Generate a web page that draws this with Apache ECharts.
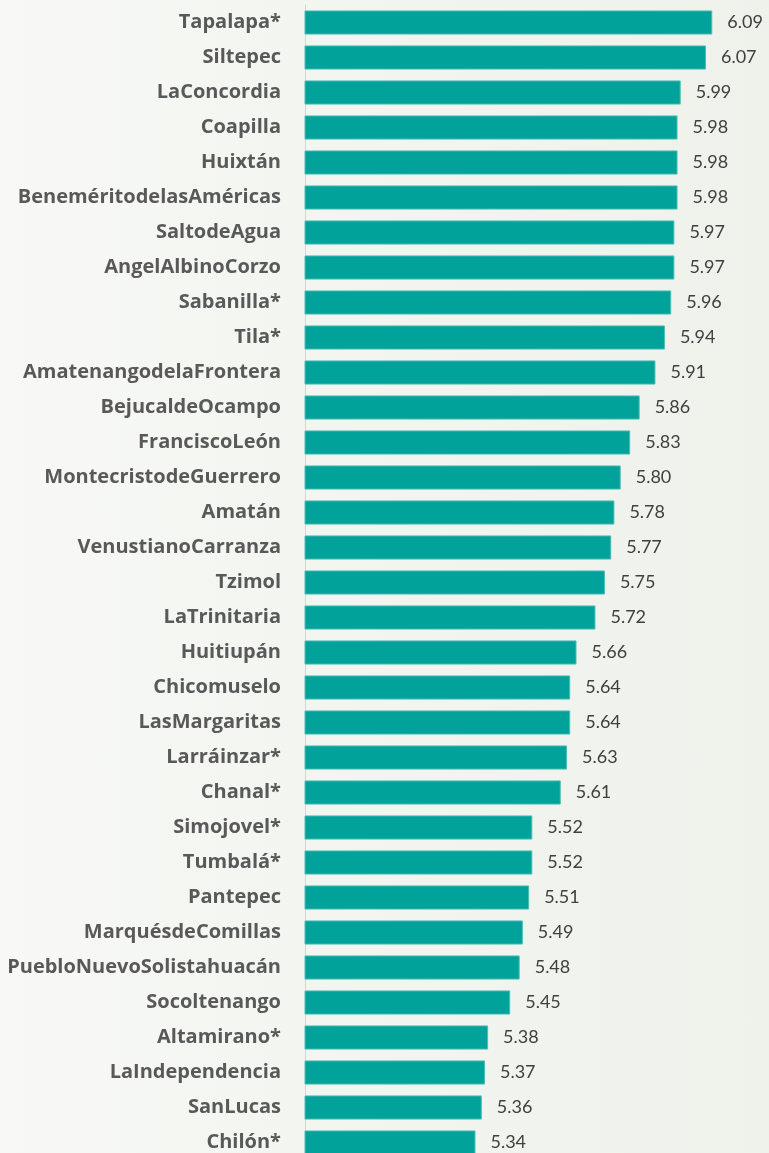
<!DOCTYPE html>
<html lang="es">
<head>
    <meta charset="UTF-8">
    <title>Municipios</title>
    <script src="https://cdn.jsdelivr.net/npm/echarts@6.0.0/dist/echarts.min.js"></script>
    <style>
        * { margin: 0; padding: 0; box-sizing: border-box; }
        html, body { overflow: hidden; }
        body {
            background: linear-gradient(90deg, #f8f9f7 0%, #f3f5f0 40%, #eff2eb 100%);
        }
        /* un poco más alto que la ventana: la última barra queda cortada como en el original */
        #chart { width: 769px; height: 1160px; }
    </style>
</head>
<body>
    <div id="chart"></div>
    <script>
        // municipios y valores, de arriba a abajo
        const municipios = [
            'Tapalapa*', 'Siltepec', 'LaConcordia', 'Coapilla', 'Huixtán',
            'BeneméritodelasAméricas', 'SaltodeAgua', 'AngelAlbinoCorzo', 'Sabanilla*', 'Tila*',
            'AmatenangodelaFrontera', 'BejucaldeOcampo', 'FranciscoLeón', 'MontecristodeGuerrero', 'Amatán',
            'VenustianoCarranza', 'Tzimol', 'LaTrinitaria', 'Huitiupán', 'Chicomuselo',
            'LasMargaritas', 'Larráinzar*', 'Chanal*', 'Simojovel*', 'Tumbalá*',
            'Pantepec', 'MarquésdeComillas', 'PuebloNuevoSolistahuacán', 'Socoltenango', 'Altamirano*',
            'LaIndependencia', 'SanLucas', 'Chilón*'
        ];
        const valores = [
            6.09, 6.07, 5.99, 5.98, 5.98,
            5.98, 5.97, 5.97, 5.96, 5.94,
            5.91, 5.86, 5.83, 5.80, 5.78,
            5.77, 5.75, 5.72, 5.66, 5.64,
            5.64, 5.63, 5.61, 5.52, 5.52,
            5.51, 5.49, 5.48, 5.45, 5.38,
            5.37, 5.36, 5.34
        ];

        const chart = echarts.init(document.getElementById('chart'));
        chart.setOption({
            backgroundColor: 'transparent',
            animation: false,
            grid: { left: 305, top: 5, bottom: 0, right: 22 },
            xAxis: {
                type: 'value',
                min: 4.8,
                max: 6.2,
                show: false
            },
            yAxis: {
                type: 'category',
                inverse: true,
                data: municipios,
                axisLine: { lineStyle: { color: '#d4d6d2', width: 1 } },
                axisTick: { length: 7, lineStyle: { color: '#d4d6d2' } },
                axisLabel: {
                    margin: 24,
                    color: '#595959',
                    fontWeight: 'bold',
                    fontSize: 20,
                    fontFamily: 'Open Sans'
                }
            },
            series: [{
                type: 'bar',
                data: valores,
                barCategoryGap: '31%',
                itemStyle: {
                    color: '#00a299',
                    borderColor: '#4dbdb6',
                    borderWidth: 1
                },
                label: {
                    show: true,
                    position: 'right',
                    distance: 15,
                    color: '#404040',
                    fontSize: 18,
                    fontFamily: 'Lato',
                    formatter: p => p.value.toFixed(2)
                }
            }]
        });
    </script>
</body>
</html>
